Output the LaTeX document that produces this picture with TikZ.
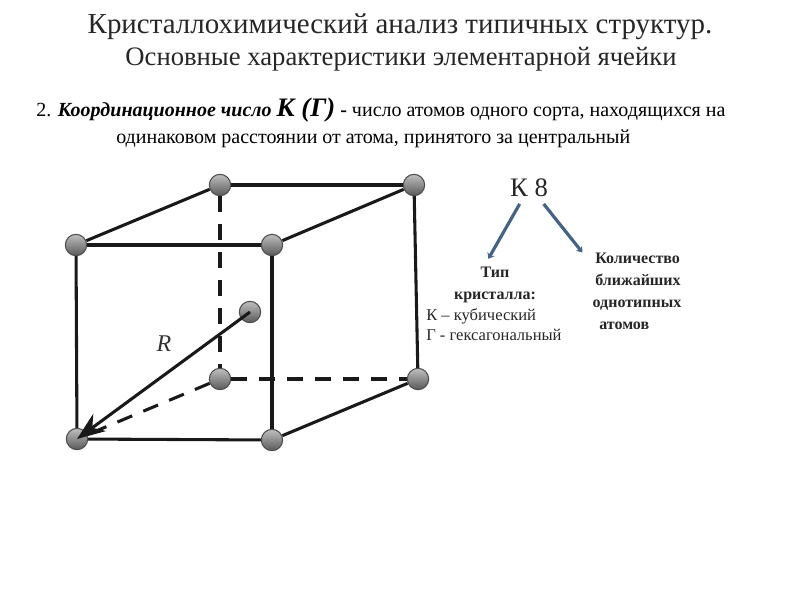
\documentclass[tikz,border=0pt]{standalone}
\usepackage{fontspec}
\setmainfont{Liberation Serif}
\usetikzlibrary{positioning, arrows.meta, calc, backgrounds}
\definecolor{linkblue}{RGB}{68,100,135}

\begin{document}
\begin{tikzpicture}[x=0.75pt, y=-0.75pt]
		% Стили для атомов, рёбер и подписей
		\tikzset{
			atom/.style={
					circle, draw=black!70, line width=0.8pt, inner sep=0pt, minimum size=16pt,
					top color=black!25, bottom color=black!65
				},
			edge solid/.style={
					draw, line width=2.3pt, color=black!90
				},
			edge hidden/.style={
					draw, line width=2.3pt, color=black!90, dash pattern=on 12pt off 9pt
				},
			radius line/.style={
					draw, line width=2.3pt, color=black!90, -{Stealth[length=21pt, width=16pt]}
				},
			link/.style={
					draw, line width=2.4pt, color=linkblue, -{Stealth[length=4pt, width=6pt]}
				},
			title text/.style={
					text=black!85, inner sep=0pt
				},
			body text/.style={
					font=\fontsize{15}{18}\selectfont, inner sep=0pt
				},
			small text/.style={
					font=\fontsize{12.4}{16.5}\selectfont, inner sep=0pt, text=black!85
				},
			small bold/.style={
					font=\fontsize{12}{16.5}\selectfont\bfseries, inner sep=0pt, text=black!85
				}
		}
		\useasboundingbox (0,0) rectangle (800,600);

		% Заголовок и определение
		\node[title text, font=\fontsize{21.7}{24}\selectfont] (title1) at (400,27) {Кристаллохимический анализ типичных структур.};
		\node[title text, font=\fontsize{20}{24}\selectfont] (title2) at (401,59) {Основные характеристики элементарной ячейки};
		\node[body text, anchor=base west] (def1) at (36,116) {2. \textbf{\textit{Координационное число {\fontsize{20}{22}\selectfont К (Г)}} -} число атомов одного сорта, находящихся на};
		\node[body text, anchor=base west] (def2) at (116,143) {одинаковом расстоянии от атома, принятого за центральный};

		% Атомы ячейки
		\node[atom] (bt1) at (220,185) {};
		\node[atom] (bt2) at (414,185) {};
		\node[atom] (ft1) at (76,245) {};
		\node[atom] (ft2) at (272,245) {};
		\node[atom] (cc) at (250,312) {};
		\node[atom] (bb1) at (220,379) {};
		\node[atom] (bb2) at (418,379) {};
		\node[atom] (fb1) at (77,439) {};
		\node[atom] (fb2) at (272,440) {};

		% Видимые и скрытые рёбра
		\begin{scope}[on background layer]
			\foreach \from/\to in {ft1/ft2, ft2/fb2, fb2/fb1, fb1/ft1, bt1/bt2, bt2/bb2, ft1/bt1, ft2/bt2, fb2/bb2} {
					\draw[edge solid] (\from) -- (\to);
				}
			\foreach \from/\to in {bt1/bb1, bb1/bb2, bb1/fb1} {
					\draw[edge hidden] (\from) -- (\to);
				}
		\end{scope}
		\draw[radius line] (cc.center) -- (fb1.center);
		\node[font=\itshape\fontsize{18}{20}\selectfont, text=black!80] (rlabel) at (164,344) {R};

		% Обозначение К 8
		\node[title text, font=\fontsize{20}{22}\selectfont] (k8) at (529,188) {К 8};
		\node[small bold, align=center] (kind) at (495,285) {Тип\\кристалла:};
		\node[small bold, align=left] (count) at (637,291) {\hspace{2pt}Количество\\\hspace{2pt}ближайших\\однотипных\\\hspace{5pt}атомов};
		\node[small text, anchor=base west] (cub) at (426,320) {К – кубический};
		\node[small text, anchor=base west] (hex) at (426,340) {Г - гексагональный};

		% Стрелки от обозначения
		\draw[link] ([xshift=-7pt,yshift=-5pt]k8.south) -- ([xshift=-5pt,yshift=6pt]kind.north);
		\draw[link] ([xshift=11pt,yshift=-5pt]k8.south) -- ([xshift=-41pt,yshift=0pt]count.north);
\end{tikzpicture}
\end{document}
